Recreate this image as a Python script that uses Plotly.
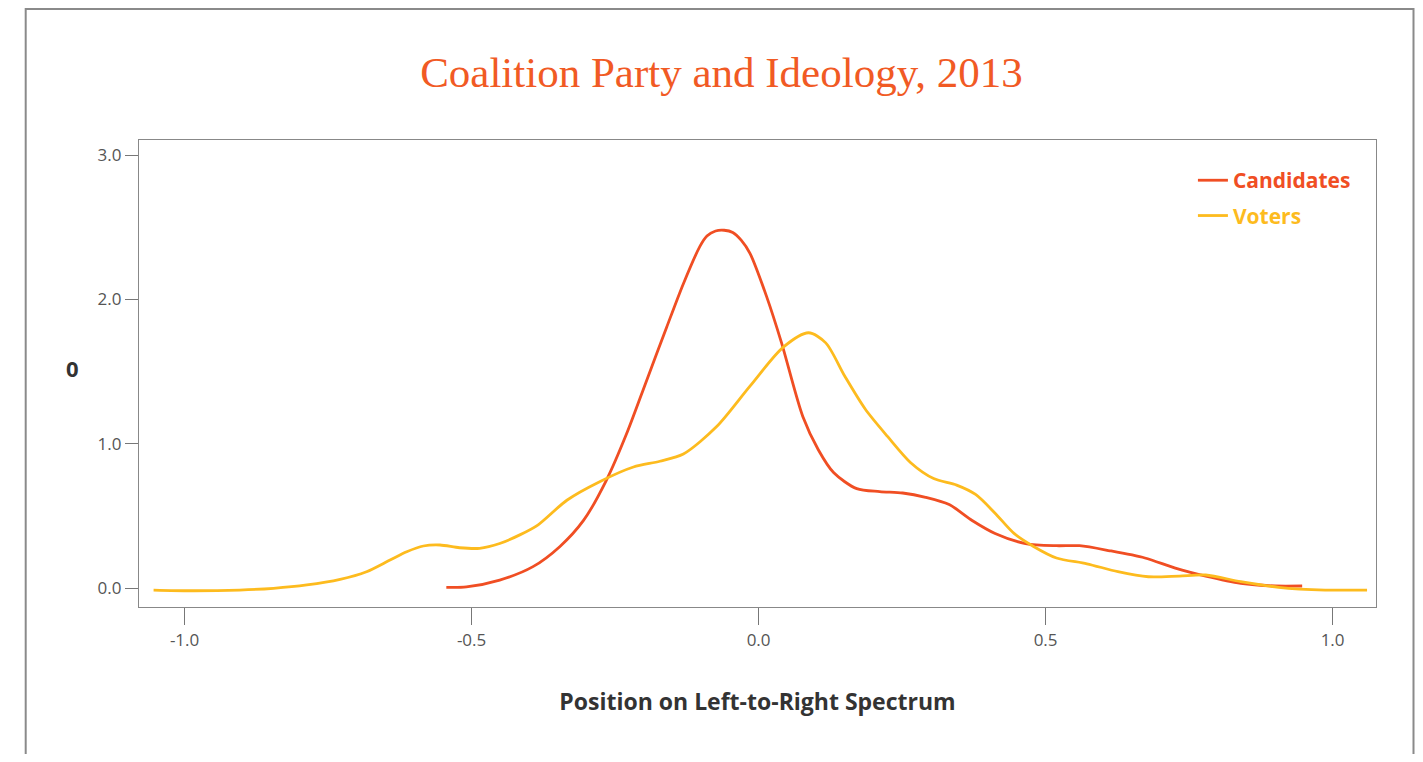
import plotly.graph_objects as go

# Candidates density curve
cand_x = [-0.544, -0.509, -0.451, -0.393, -0.346, -0.305, -0.265, -0.230, -0.195, -0.160,
          -0.131, -0.102, -0.090, -0.075, -0.060, -0.045, -0.030, -0.015, 0.014, 0.040,
          0.077, 0.104, 0.131, 0.171, 0.211, 0.251, 0.291, 0.332, 0.372, 0.412,
          0.465, 0.519, 0.559, 0.612, 0.673, 0.726, 0.779, 0.840, 0.900, 0.947]
cand_y = [0.007, 0.010, 0.057, 0.150, 0.290, 0.470, 0.750, 1.070, 1.440, 1.810,
          2.110, 2.370, 2.440, 2.475, 2.480, 2.465, 2.410, 2.320, 2.020, 1.700,
          1.190, 0.960, 0.800, 0.690, 0.670, 0.660, 0.630, 0.580, 0.470, 0.380,
          0.310, 0.295, 0.295, 0.260, 0.210, 0.140, 0.085, 0.035, 0.016, 0.016]

# Voters density curve
vote_x = [-1.054, -0.990, -0.904, -0.845, -0.787, -0.729, -0.683, -0.642, -0.613, -0.584,
          -0.555, -0.521, -0.486, -0.451, -0.416, -0.384, -0.334, -0.276, -0.218, -0.172,
          -0.131, -0.073, -0.015, 0.043, 0.087, 0.117, 0.150, 0.186, 0.225, 0.265,
          0.305, 0.345, 0.378, 0.412, 0.445, 0.479, 0.519, 0.572, 0.626, 0.679,
          0.733, 0.779, 0.840, 0.906, 0.987, 1.060]
vote_y = [-0.012, -0.017, -0.012, 0.000, 0.023, 0.062, 0.115, 0.196, 0.253, 0.293,
          0.300, 0.281, 0.277, 0.310, 0.370, 0.440, 0.610, 0.740, 0.840, 0.880,
          0.930, 1.120, 1.400, 1.670, 1.770, 1.700, 1.470, 1.240, 1.050, 0.870,
          0.760, 0.715, 0.650, 0.520, 0.380, 0.290, 0.210, 0.170, 0.115, 0.080,
          0.085, 0.092, 0.046, 0.007, -0.012, -0.012]

x_ticks = [-1.0, -0.5, 0.0, 0.5, 1.0]
x_ticklabels = ["-1.0", "-0.5", "0.0", "0.5", "1.0"]
y_ticks = [0.0, 1.0, 2.0, 3.0]
y_ticklabels = ["0.0", "1.0", "2.0", "3.0"]

RED = "#F04E23"
GOLD = "#FDBB1E"
TITLE_ORANGE = "#F15A24"
SANS = "Open Sans, Noto Sans, sans-serif"

W, H = 1407, 746

fig = go.Figure()
fig.add_trace(go.Scatter(
    x=cand_x, y=cand_y, mode="lines", legendgroup="c",
    line=dict(color=RED, width=2.8, shape="spline", smoothing=0.8),
    name="<span style='color:%s'><b>Candidates</b></span>" % RED))
fig.add_trace(go.Scatter(
    x=vote_x, y=vote_y, mode="lines", legendgroup="v",
    line=dict(color=GOLD, width=2.8, shape="spline", smoothing=0.8),
    name="<span style='color:%s'><b>Voters</b></span>" % GOLD))

fig.update_layout(
    width=W, height=H,
    margin=dict(l=131, r=39, t=132, b=147),
    paper_bgcolor="white", plot_bgcolor="white",
    title=dict(text="Coalition Party and Ideology, 2013", x=713.5 / W, xanchor="center",
               y=1 - 64 / H, yanchor="middle", yref="container",
               font=dict(family="Liberation Serif, DejaVu Serif, serif", size=43, color=TITLE_ORANGE)),
    showlegend=True,
    legend=dict(x=0.852, y=0.957, xanchor="left", yanchor="top", bgcolor="rgba(0,0,0,0)",
                font=dict(family=SANS, size=21), tracegroupgap=5, itemwidth=30),
    font=dict(family=SANS, color="#444"),
)

fig.update_xaxes(
    range=[-1.0794, 1.0756], tickvals=x_ticks, ticktext=x_ticklabels,
    ticks="outside", ticklen=17, tickwidth=1, tickcolor="#777",
    showline=True, linecolor="#888", linewidth=1.2, mirror=True,
    showgrid=False, zeroline=False,
    tickfont=dict(family=SANS, size=17, color="#555"),
    title=dict(text="<b>Position on Left-to-Right Spectrum</b>", standoff=44,
               font=dict(family=SANS, size=23, color="#333")),
)
fig.update_yaxes(
    range=[-0.1295, 3.105], tickvals=y_ticks, ticktext=y_ticklabels,
    ticks="outside", ticklen=13, tickwidth=1, tickcolor="#777",
    showline=True, linecolor="#888", linewidth=1.2, mirror=True,
    showgrid=False, zeroline=False,
    tickfont=dict(family=SANS, size=17, color="#555"),
)

# y-axis label (horizontal, as in the reference)
fig.add_annotation(text="<b>0</b>", xref="paper", yref="paper",
                   x=(64 - 131) / 1237, y=(599 - 360) / 467, xanchor="center", yanchor="middle",
                   showarrow=False, font=dict(family=SANS, size=22, color="#333"))

# outer page frame
fig.add_shape(type="rect", xref="paper", yref="paper",
              x0=(17.7 - 131) / 1237, x1=(W - 1.5 - 131) / 1237,
              y0=-0.45, y1=(599 - 1.0) / 467,
              line=dict(color="#8a8a8a", width=2), fillcolor="rgba(0,0,0,0)", layer="below")

fig.write_html("out.html")
